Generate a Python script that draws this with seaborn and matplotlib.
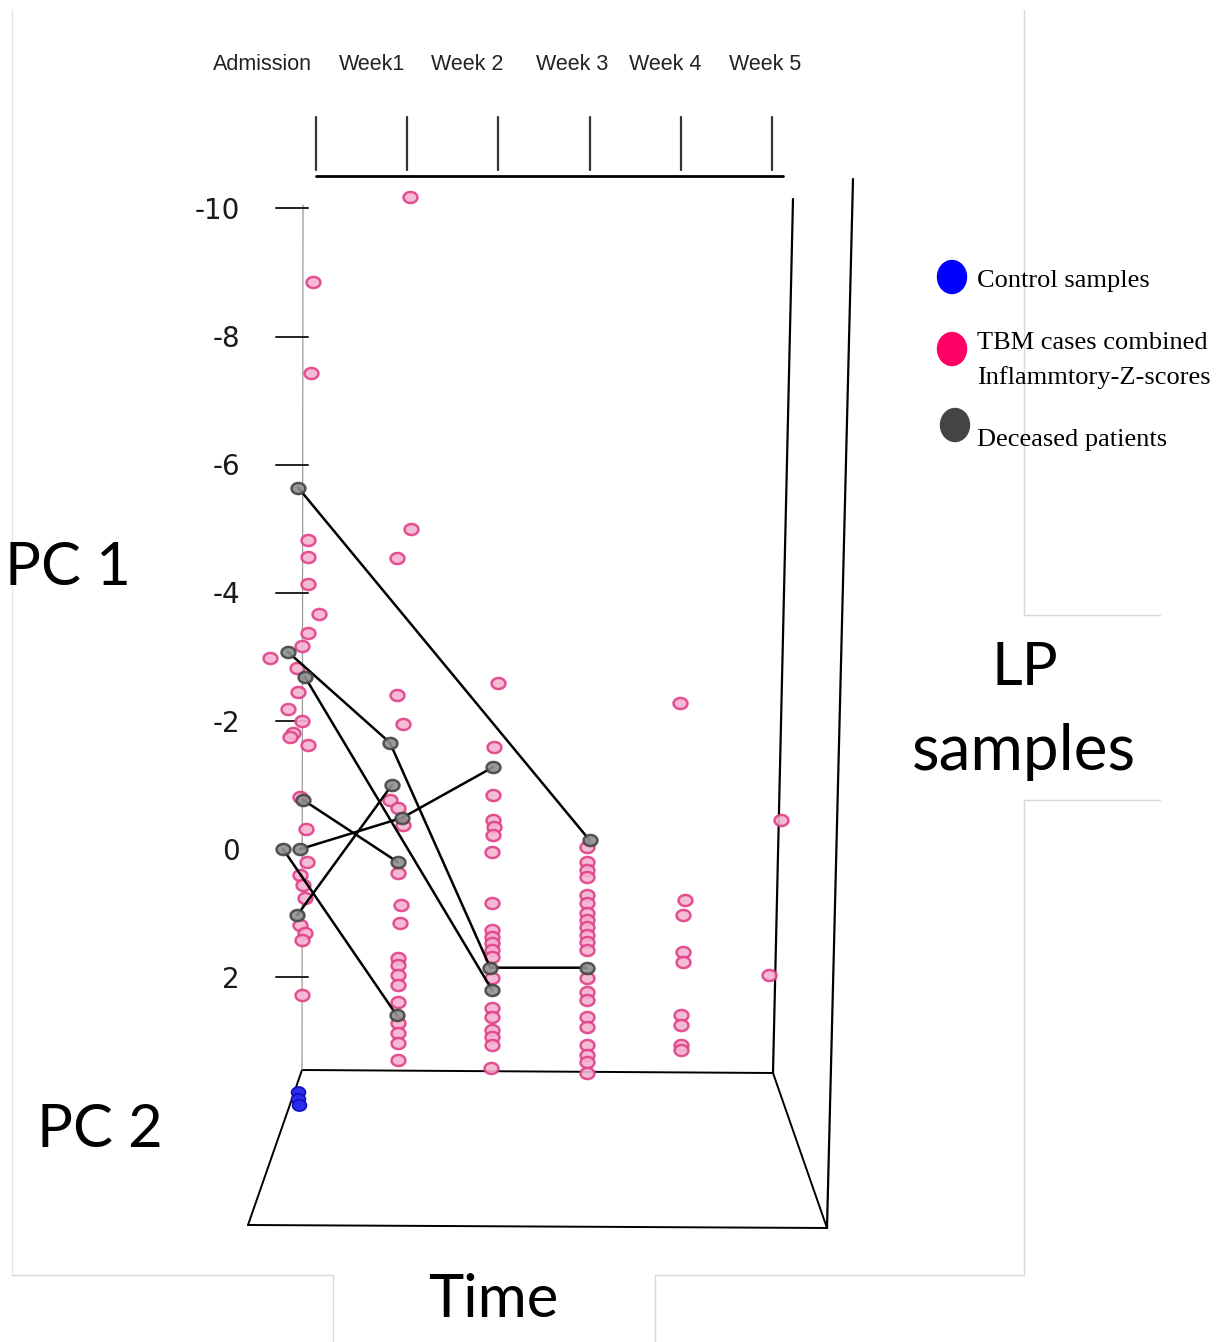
import numpy as np
import pandas as pd
import seaborn as sns
import matplotlib.pyplot as plt
from matplotlib import transforms
from matplotlib.patches import Ellipse
from matplotlib.path import Path

# ---------------- data ----------------
time_labels = ["Admission", "Week1", "Week 2", "Week 3", "Week 4", "Week 5"]
pc1_ticks = [-10, -8, -6, -4, -2, 0, 2]

# TBM cases (week index, small PC2 offset, PC1)
tbm_week = ([0] * 26 + [1] * 20 + [2] * 20 + [3] * 21 + [4] * 9 + [5] * 2)
tbm_pc2 = [0.12, 0.10, 0.06, 0.06, 0.06, 0.18, 0.06, 0.00, -0.34, -0.05,
           -0.04, -0.15, 0.00, -0.10, -0.13, 0.06, -0.02, 0.04, 0.05, -0.02,
           0.01, 0.03, -0.02, 0.03, 0.00, 0.00,
           0.14, 0.15, 0.00, 0.00, 0.07, -0.07, 0.01, 0.07, 0.01, 0.05,
           0.04, 0.02, 0.02, 0.02, 0.02, 0.02, 0.02, 0.02, 0.02, 0.01,
           0.07, 0.03, 0.02, 0.02, 0.03, 0.02, 0.01, 0.01, 0.01, 0.01,
           0.01, 0.01, 0.01, 0.01, 0.01, 0.01, 0.01, 0.01, 0.01, 0.00,
           0.01, 0.01, 0.01, 0.01, 0.01, 0.01, 0.01, 0.01, 0.01, 0.01,
           0.01, 0.01, 0.01, 0.01, 0.01, 0.01, 0.01, 0.01, 0.01, 0.01, 0.01,
           0.00, 0.05, 0.03, 0.03, 0.03, 0.01, 0.01, 0.01, 0.01,
           0.06, -0.06]
tbm_pc1 = [-8.91, -7.49, -4.88, -4.62, -4.20, -3.73, -3.43, -3.23, -3.04, -2.89,
           -2.51, -2.25, -2.06, -1.87, -1.81, -1.69, -0.87, -0.37, 0.14, 0.34,
           0.50, 0.70, 1.12, 1.25, 1.36, 2.22,
           -10.24, -5.06, -4.60, -2.47, -2.01, -0.83, -0.70, -0.44, 0.31, 0.81,
           1.09, 1.64, 1.75, 1.90, 2.06, 2.33, 2.65, 2.81, 2.97, 3.23,
           -2.65, -1.65, -0.90, -0.51, -0.41, -0.28, -0.02, 0.78, 1.20, 1.31,
           1.40, 1.51, 1.62, 1.95, 2.42, 2.56, 2.76, 2.87, 3.00, 3.36,
           -0.09, 0.14, 0.27, 0.37, 0.66, 0.78, 0.94, 1.05, 1.15, 1.28,
           1.39, 1.51, 1.95, 2.17, 2.29, 2.56, 2.72, 3.00, 3.15, 3.26, 3.43,
           -2.34, 0.73, 0.97, 1.54, 1.70, 2.53, 2.68, 3.00, 3.07,
           -0.51, 1.90]

# Deceased patients: trajectories
dec_patient = [1, 1, 2, 2, 2, 2, 3, 3, 4, 4, 5, 5, 6, 6, 6, 7, 7]
dec_week = [0, 3, 0, 1, 2, 3, 0, 2, 0, 1, 0, 1, 0, 1, 2, 0, 1]
dec_pc2 = [-0.04, 0.04, -0.15, -0.07, -0.01, 0.01, 0.03, 0.01, -0.05, -0.05,
           0.01, 0.01, -0.02, 0.06, 0.02, -0.20, 0.00]
dec_pc1 = [-5.70, -0.20, -3.14, -1.72, 1.79, 1.79, -2.75, 2.14, 0.97, -1.06,
           -0.83, 0.14, -0.06, -0.55, -1.34, -0.06, 2.53]

# Control samples
ctrl_week = [0, 0, 0]
ctrl_pc2 = [-0.04, -0.04, -0.03]
ctrl_pc1 = [3.73, 3.84, 3.93]

tbm = pd.DataFrame({"pos": np.array(tbm_week) + np.array(tbm_pc2), "pc1": tbm_pc1})
dec = pd.DataFrame({"patient": dec_patient,
                    "pos": np.array(dec_week) + np.array(dec_pc2), "pc1": dec_pc1})
ctrl = pd.DataFrame({"pos": np.array(ctrl_week) + np.array(ctrl_pc2), "pc1": ctrl_pc1})

# ---------------- figure ----------------
sns.set_theme(style="white")
plt.rcParams["font.family"] = ["Liberation Sans", "DejaVu Sans"]

W, H = 1219, 1342
fig = plt.figure(figsize=(W / 100, H / 100), dpi=100)
ax = fig.add_axes([0, 0, 1, 1])
X0, DX = 302.0, 94.6   # pixel of week 0, pixels per week
Y0, DY = 853.0, 64.08  # pixel of PC1 = 0, pixels per unit
ax.set_xlim(-X0 / DX, (W - X0) / DX)
ax.set_ylim((H - Y0) / DY, -Y0 / DY)
ax.axis("off")

pix = transforms.Affine2D().scale(1 / W, -1 / H).translate(0, 1) + fig.transFigure
xpix_ydata = transforms.blended_transform_factory(pix, ax.transData)


def seg(x, y, **kw):
    kw.setdefault("color", "black")
    kw.setdefault("lw", 1.6)
    ax.add_line(plt.Line2D(x, y, transform=pix, **kw))


# faint panel borders
light = dict(color="#d9d9d9", lw=1.0)
seg([12, 12], [10, 1275], color="#e6e6e6", lw=1.0)
seg([12, 333], [1275, 1275], **light)
seg([333, 333], [1275, 1342], **light)
seg([655, 655], [1275, 1342], **light)
seg([655, 1024], [1275, 1275], **light)
seg([1024, 1024], [800, 1275], **light)
seg([1024, 1160], [800, 800], **light)
seg([1024, 1160], [615, 615], **light)
seg([1024, 1024], [10, 615], **light)

# 3D box
seg([316, 783], [176, 176], lw=2.0)
for xt in [316, 407, 498, 590, 681, 772]:
    seg([xt, xt], [117, 170], color="#333333", lw=1.6)
for lab, xc in zip(time_labels, [262, 372, 467, 572, 665, 765]):
    ax.text(xc, 64, lab, transform=pix, ha="center", va="center",
            fontsize=15.5, color="#222222")
seg([793, 773], [199, 1073], lw=1.6)
seg([853, 827], [179, 1228], lw=1.6)
seg([302, 773], [1070, 1073], lw=1.4)
seg([302, 248], [1070, 1225], lw=1.4)
seg([248, 827], [1225, 1228], lw=1.4)
seg([773, 827], [1073, 1228], lw=1.4)

# PC1 axis
seg([303, 302], [205, 1070], color="#9a9a9a", lw=0.9)
for v in pc1_ticks:
    if v != 0:
        ax.add_line(plt.Line2D([276, 308], [v - 0.06, v - 0.06], transform=xpix_ydata,
                               color="#222222", lw=1.4))
    ax.text(240, v - 0.02, str(v), transform=xpix_ydata, ha="right", va="center",
            fontsize=20, family=["DejaVu Sans"], color="#1a1a1a")

# marker shape (slightly wide ellipse)
th = np.linspace(0, 2 * np.pi, 60)
ell = Path(np.c_[0.5 * np.cos(th), 0.4 * np.sin(th)], closed=True)

sns.scatterplot(data=tbm, x="pos", y="pc1", ax=ax, marker=ell, s=100,
                color="#f6b4d0", edgecolor="#e0408a", linewidth=1.8,
                alpha=0.9, zorder=3, legend=False)
sns.lineplot(data=dec, x="pos", y="pc1", units="patient", estimator=None,
             sort=False, color="black", lw=1.8, ax=ax, legend=False, zorder=4)
sns.scatterplot(data=dec, x="pos", y="pc1", ax=ax, marker=ell, s=100,
                color="#8f8f8f", edgecolor="#454545", linewidth=1.8,
                alpha=0.9, zorder=5, legend=False)
sns.scatterplot(data=ctrl, x="pos", y="pc1", ax=ax, marker=ell, s=100,
                color="#2a2ae8", edgecolor="#1010c0", linewidth=1.2,
                zorder=5, legend=False)

# big axis titles
big = dict(transform=pix, ha="center", va="center", fontsize=43,
           family=["Lato", "DejaVu Sans"], color="black")
ax.text(68, 568, "PC 1", **big)
ax.text(100, 1130, "PC 2", **big)
ax.text(1025, 668, "LP", **big)
ax.text(1024, 752, "samples", **dict(big, fontsize=46))
ax.text(493, 1300, "Time", **big)

# legend
for (cx, cy), col in zip([(952, 277), (952, 349), (955, 425)],
                         ["#0000ff", "#ff0066", "#454545"]):
    ax.add_patch(Ellipse((cx, cy), 29, 33, transform=pix, color=col))
leg = dict(transform=pix, ha="left", va="center", fontsize=19,
           family=["Liberation Serif", "DejaVu Serif"], color="black")
ax.text(977, 281, "Control samples", **leg)
ax.text(977, 343, "TBM cases combined", **leg)
ax.text(977, 378, "Inflammtory-Z-scores", **leg)
ax.text(977, 440, "Deceased patients", **leg)

fig.savefig("out.png", dpi=100)
